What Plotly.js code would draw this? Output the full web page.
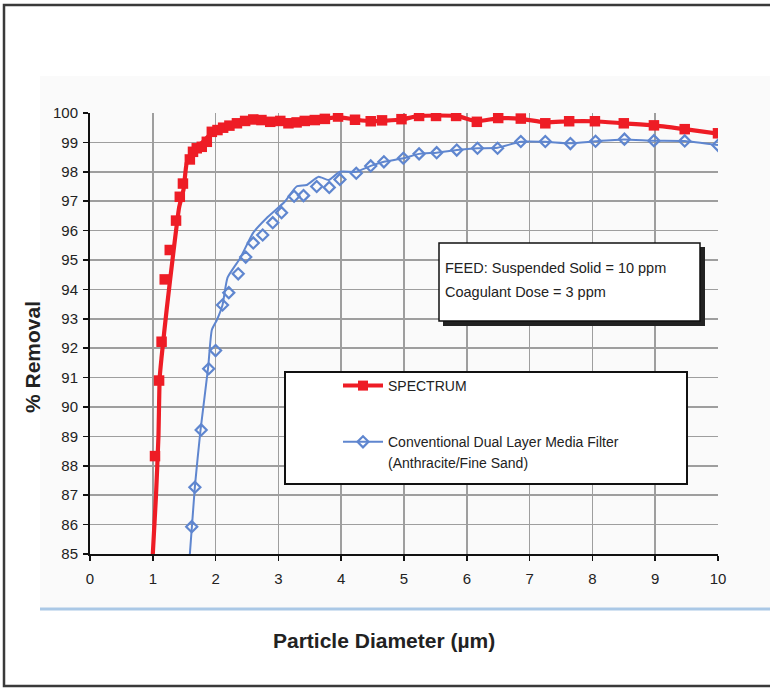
<!DOCTYPE html>
<html><head><meta charset="utf-8">
<script src="https://cdn.plot.ly/plotly-3.0.1.min.js"></script>
<style>html,body{margin:0;padding:0;background:#fff;} #chart{width:770px;height:688px;}</style>
</head><body><div id="chart"></div>
<script>
// ---------- data ----------
const xTickVals = [0,1,2,3,4,5,6,7,8,9,10];
const yTickVals = [85,86,87,88,89,90,91,92,93,94,95,96,97,98,99,100];

const spectrumX = [1.035,1.10,1.14,1.19,1.27,1.37,1.43,1.48,1.59,1.64,1.70,1.78,1.86,1.94,2.03,2.12,2.22,2.34,2.47,2.60,2.73,2.87,3.03,3.16,3.29,3.42,3.58,3.74,3.95,4.22,4.47,4.65,4.96,5.24,5.51,5.83,6.16,6.50,6.86,7.25,7.63,8.04,8.50,8.98,9.47,10.0];
const spectrumY = [88.33,90.9,92.22,94.34,95.34,96.34,97.15,97.6,98.42,98.68,98.8,98.85,99.02,99.36,99.42,99.5,99.57,99.65,99.73,99.78,99.76,99.7,99.73,99.65,99.68,99.73,99.76,99.8,99.88,99.77,99.72,99.75,99.79,99.9,99.9,99.9,99.7,99.83,99.81,99.65,99.72,99.72,99.65,99.58,99.45,99.31];

const spectrumLineX = [1.0,1.05,1.09,1.11,1.14,1.22,1.33,1.42,1.49,1.54,1.64,1.80,1.96,2.18,2.55,2.92,3.3,3.6,3.95,4.22,4.47,4.96,5.24,5.83,6.16,6.5,6.86,7.25,7.63,8.04,8.5,8.98,9.47,10.0];
const spectrumLineY = [85,86.95,89.0,91.0,91.7,93.3,95.3,96.8,97.4,98.3,98.74,99.02,99.36,99.53,99.74,99.76,99.72,99.76,99.86,99.78,99.72,99.78,99.9,99.9,99.72,99.82,99.8,99.68,99.72,99.72,99.65,99.58,99.45,99.3];

const conventionalX = [1.62,1.67,1.77,1.89,2.0,2.11,2.21,2.36,2.48,2.60,2.75,2.91,3.05,3.25,3.40,3.61,3.81,3.98,4.24,4.47,4.68,4.99,5.24,5.52,5.84,6.17,6.49,6.86,7.25,7.65,8.05,8.51,8.98,9.47,10.0];
const conventionalY = [85.93,87.27,89.22,91.3,91.92,93.47,93.89,94.53,95.1,95.58,95.85,96.27,96.61,97.17,97.19,97.5,97.47,97.74,97.95,98.2,98.34,98.46,98.61,98.65,98.74,98.8,98.8,99.03,99.03,98.96,99.04,99.11,99.06,99.05,98.9];

const conventionalLineX = [1.59,1.67,1.76,1.88,1.94,2.02,2.11,2.19,2.39,2.6,2.81,3.10,3.29,3.45,3.64,3.80,3.98,4.24,4.47,4.68,4.99,5.24,5.52,5.84,6.17,6.49,6.86,7.25,7.65,8.05,8.5,8.97,9.47,10.0];
const conventionalLineY = [85,87.29,89.22,91.32,92.62,92.96,93.47,94.4,95.06,95.93,96.42,96.98,97.5,97.55,97.83,97.72,98.0,98.0,98.2,98.34,98.46,98.61,98.65,98.74,98.8,98.82,99.02,99.02,98.97,99.04,99.1,99.06,99.05,98.91];

const seriesNames = ['SPECTRUM','Conventional Dual Layer Media Filter','(Anthracite/Fine Sand)'];
const noteLines = ['FEED: Suspended Solid = 10 ppm','Coagulant Dose = 3 ppm'];
const xTitle = 'Particle Diameter (µm)';
const yTitle = '% Removal';

// ---------- style ----------
const RED = '#ee1c25';
const BLUE = '#5f86cf';
const FONT = 'Liberation Sans, Arial, sans-serif';
const TICKFONT = 'Liberation Sans Narrow, Arial Narrow, Liberation Sans, Arial, sans-serif';
const L = 90, R = 718, T = 113, B = 554;
const px = p => (p - L) / (R - L);
const py = p => (B - p) / (B - T);

const traces = [
  {x: spectrumLineX, y: spectrumLineY, mode: 'lines', line: {color: RED, width: 4.2, shape: 'spline', smoothing: 0.5}, showlegend: false, hoverinfo: 'skip'},
  {x: spectrumX, y: spectrumY, mode: 'markers', marker: {symbol: 'square', size: 10.5, color: RED}, showlegend: false},
  {x: conventionalLineX, y: conventionalLineY, mode: 'lines', line: {color: BLUE, width: 2, shape: 'spline', smoothing: 0.5}, showlegend: false, hoverinfo: 'skip'},
  {x: conventionalX, y: conventionalY, mode: 'markers', marker: {symbol: 'diamond-open', size: 8.5, color: BLUE, line: {width: 2.2, color: BLUE}}, showlegend: false},
  {x: [null], y: [null], mode: 'lines+markers', name: seriesNames[0], legendgroup: 'a', line: {color: RED, width: 4}, marker: {symbol: 'square', size: 10, color: RED}},
  {x: [null], y: [null], mode: 'lines+markers', name: seriesNames[1], legendgroup: 'b', line: {color: BLUE, width: 2}, marker: {symbol: 'diamond-open', size: 8.5, color: BLUE, line: {width: 2.2, color: BLUE}}},
  {x: [null], y: [null], mode: 'lines', name: seriesNames[2], legendgroup: 'b', line: {color: 'rgba(0,0,0,0)', width: 0}}
];

const axisCommon = {
  showgrid: true, gridcolor: '#9e9e9e', gridwidth: 1.6,
  showline: true, linecolor: '#111', linewidth: 2,
  ticks: 'outside', ticklen: 5, tickwidth: 1.5, tickcolor: '#111',
  tickfont: {family: TICKFONT, size: 15, color: '#222'},
  zeroline: false, fixedrange: true
};

const layout = {
  width: 770, height: 688,
  margin: {l: L, r: 770 - R, t: T, b: 688 - B, pad: 0},
  paper_bgcolor: '#ffffff', plot_bgcolor: '#ffffff',
  font: {family: FONT, color: '#222'},
  xaxis: Object.assign({}, axisCommon, {range: [0, 10], tickvals: xTickVals, ticklabelstandoff: 5}),
  yaxis: Object.assign({}, axisCommon, {range: [85, 100], tickvals: yTickVals, ticklabelstandoff: 2}),
  showlegend: true,
  legend: {
    x: px(338), y: py(370), xanchor: 'left', yanchor: 'top',
    bgcolor: 'rgba(0,0,0,0)', borderwidth: 0,
    font: {family: FONT, size: 14, color: '#222'},
    traceorder: 'grouped', tracegroupgap: 35, itemwidth: 40
  },
  shapes: [
    // outer frame
    {type: 'rect', xref: 'paper', yref: 'paper', x0: px(4), x1: px(778), y0: py(686), y1: py(5), line: {color: '#3a3a3a', width: 2.5}, layer: 'below'},
    // light panel
    {type: 'rect', xref: 'paper', yref: 'paper', x0: px(40), x1: px(772), y0: py(609), y1: py(76), fillcolor: '#fafafa', line: {width: 0}, layer: 'below'},
    {type: 'line', xref: 'paper', yref: 'paper', x0: px(40), x1: px(772), y0: py(609), y1: py(609), line: {color: '#aac8e6', width: 3}, layer: 'below'},
    // note box shadow + box
    {type: 'rect', xref: 'paper', yref: 'paper', x0: px(443), x1: px(705), y0: py(326), y1: py(247), fillcolor: '#222', line: {width: 0}, layer: 'above'},
    {type: 'rect', xref: 'paper', yref: 'paper', x0: px(439), x1: px(700), y0: py(321), y1: py(243), fillcolor: '#ffffff', line: {color: '#111', width: 1.5}, layer: 'above'},
    // legend box
    {type: 'rect', xref: 'paper', yref: 'paper', x0: px(285), x1: px(687), y0: py(484), y1: py(372), fillcolor: '#ffffff', line: {color: '#111', width: 2}, layer: 'above'}
  ],
  annotations: [
    {xref: 'paper', yref: 'paper', x: px(443), y: py(268), xanchor: 'left', yanchor: 'middle', text: noteLines[0], showarrow: false, font: {family: FONT, size: 14.5, color: '#222'}},
    {xref: 'paper', yref: 'paper', x: px(443), y: py(292), xanchor: 'left', yanchor: 'middle', text: noteLines[1], showarrow: false, font: {family: FONT, size: 14.5, color: '#222'}},
    {xref: 'paper', yref: 'paper', x: px(384), y: py(640), xanchor: 'center', yanchor: 'middle', text: '<b>' + xTitle + '</b>', showarrow: false, font: {family: FONT, size: 21, color: '#222'}},
    {xref: 'paper', yref: 'paper', x: px(32), y: py(357), xanchor: 'center', yanchor: 'middle', textangle: -90, text: '<b>' + yTitle + '</b>', showarrow: false, font: {family: FONT, size: 21, color: '#222'}}
  ]
};

Plotly.newPlot('chart', traces, layout, {displayModeBar: false, staticPlot: true});
</script>
</body></html>
